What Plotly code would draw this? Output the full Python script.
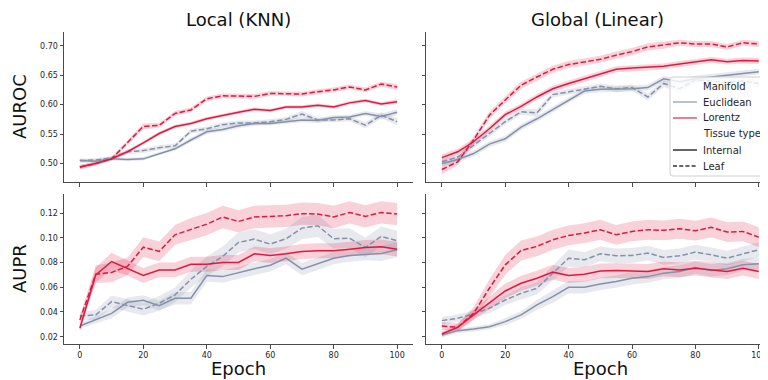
import plotly.graph_objects as go

epochs = [0, 5, 10, 15, 20, 25, 30, 35, 40, 45, 50, 55, 60, 65, 70, 75, 80, 85, 90, 95, 100]

# ---- AUROC, Local (KNN)
auroc_local_lor_leaf = [0.494, 0.500, 0.508, 0.535, 0.563, 0.565, 0.585, 0.591, 0.610, 0.615, 0.615, 0.614, 0.619, 0.619, 0.618, 0.622, 0.625, 0.630, 0.625, 0.635, 0.630]
auroc_local_lor_int = [0.494, 0.500, 0.508, 0.520, 0.535, 0.551, 0.563, 0.568, 0.576, 0.582, 0.587, 0.592, 0.590, 0.596, 0.596, 0.599, 0.596, 0.603, 0.607, 0.601, 0.605]
auroc_local_euc_int = [0.505, 0.504, 0.508, 0.507, 0.508, 0.517, 0.525, 0.540, 0.554, 0.558, 0.564, 0.568, 0.568, 0.571, 0.574, 0.573, 0.578, 0.579, 0.585, 0.580, 0.587]
auroc_local_euc_leaf = [0.505, 0.506, 0.510, 0.520, 0.522, 0.527, 0.530, 0.555, 0.559, 0.566, 0.569, 0.569, 0.571, 0.575, 0.584, 0.574, 0.574, 0.576, 0.565, 0.582, 0.571]

# ---- AUROC, Global (Linear)
auroc_global_lor_leaf = [0.490, 0.503, 0.540, 0.582, 0.608, 0.633, 0.647, 0.660, 0.668, 0.673, 0.677, 0.684, 0.690, 0.698, 0.701, 0.705, 0.703, 0.703, 0.698, 0.705, 0.703]
auroc_global_lor_int = [0.510, 0.520, 0.537, 0.559, 0.583, 0.597, 0.613, 0.627, 0.636, 0.644, 0.652, 0.660, 0.662, 0.663, 0.665, 0.669, 0.672, 0.676, 0.673, 0.675, 0.674]
auroc_global_euc_int = [0.500, 0.507, 0.517, 0.533, 0.542, 0.562, 0.576, 0.592, 0.608, 0.623, 0.626, 0.626, 0.627, 0.629, 0.644, 0.639, 0.644, 0.647, 0.650, 0.653, 0.656]
auroc_global_euc_leaf = [0.503, 0.511, 0.531, 0.551, 0.571, 0.588, 0.586, 0.617, 0.622, 0.627, 0.631, 0.627, 0.629, 0.613, 0.636, 0.627, 0.642, 0.640, 0.638, 0.640, 0.636]

# ---- AUPR, Local (KNN)
aupr_local_lor_leaf = [0.0335, 0.0705, 0.0720, 0.0768, 0.0924, 0.0890, 0.1024, 0.1070, 0.1110, 0.1168, 0.1132, 0.1168, 0.1173, 0.1178, 0.1195, 0.1192, 0.1168, 0.1205, 0.1173, 0.1205, 0.1192]
aupr_local_lor_int = [0.0268, 0.0700, 0.0808, 0.0754, 0.0695, 0.0740, 0.0740, 0.0786, 0.0786, 0.0800, 0.0800, 0.0870, 0.0857, 0.0870, 0.0889, 0.0895, 0.0895, 0.0908, 0.0922, 0.0927, 0.0908]
aupr_local_euc_int = [0.0286, 0.0335, 0.0389, 0.0478, 0.0495, 0.0451, 0.0511, 0.0511, 0.0695, 0.0686, 0.0719, 0.0749, 0.0778, 0.0835, 0.0746, 0.0789, 0.0835, 0.0857, 0.0868, 0.0873, 0.0903]
aupr_local_euc_leaf = [0.0368, 0.0376, 0.0484, 0.0451, 0.0422, 0.0470, 0.0538, 0.0665, 0.0768, 0.0849, 0.0962, 0.0989, 0.0949, 0.0992, 0.1078, 0.1097, 0.0992, 0.0997, 0.0922, 0.1011, 0.0976]

# ---- AUPR, Global (Linear)
aupr_global_lor_leaf = [0.0286, 0.0276, 0.0389, 0.0592, 0.0781, 0.0897, 0.0930, 0.0984, 0.1019, 0.1038, 0.1065, 0.1024, 0.1051, 0.1065, 0.1060, 0.1073, 0.1057, 0.1084, 0.1046, 0.1051, 0.1005]
aupr_global_lor_int = [0.0222, 0.0276, 0.0376, 0.0470, 0.0570, 0.0632, 0.0673, 0.0722, 0.0695, 0.0705, 0.0732, 0.0735, 0.0732, 0.0727, 0.0749, 0.0740, 0.0754, 0.0740, 0.0727, 0.0754, 0.0727]
aupr_global_euc_int = [0.0214, 0.0249, 0.0262, 0.0281, 0.0322, 0.0376, 0.0457, 0.0524, 0.0600, 0.0600, 0.0627, 0.0646, 0.0673, 0.0686, 0.0714, 0.0727, 0.0759, 0.0735, 0.0749, 0.0781, 0.0789]
aupr_global_euc_leaf = [0.0330, 0.0349, 0.0384, 0.0430, 0.0497, 0.0551, 0.0592, 0.0714, 0.0835, 0.0822, 0.0870, 0.0854, 0.0857, 0.0876, 0.0841, 0.0854, 0.0884, 0.0862, 0.0835, 0.0870, 0.0903]

# ---- confidence-band half widths
ci_auroc_local_lor_leaf = [0.004, 0.003, 0.003, 0.004, 0.005, 0.004, 0.004, 0.004, 0.004, 0.004, 0.004, 0.004, 0.004, 0.004, 0.004, 0.004, 0.004, 0.004, 0.004, 0.004, 0.005]
ci_auroc_local_lor_int = [0.003, 0.003, 0.003, 0.003, 0.003, 0.003, 0.003, 0.003, 0.003, 0.003, 0.003, 0.003, 0.003, 0.003, 0.003, 0.003, 0.003, 0.003, 0.003, 0.003, 0.004]
ci_auroc_local_euc_int = [0.003, 0.003, 0.003, 0.003, 0.003, 0.003, 0.003, 0.004, 0.004, 0.004, 0.004, 0.004, 0.003, 0.004, 0.004, 0.004, 0.004, 0.004, 0.004, 0.005, 0.005]
ci_auroc_local_euc_leaf = [0.003, 0.003, 0.003, 0.004, 0.004, 0.004, 0.004, 0.004, 0.004, 0.004, 0.004, 0.004, 0.004, 0.004, 0.005, 0.004, 0.004, 0.004, 0.005, 0.005, 0.006]
ci_auroc_global_lor_leaf = [0.008, 0.006, 0.006, 0.006, 0.006, 0.006, 0.006, 0.006, 0.006, 0.006, 0.006, 0.006, 0.006, 0.006, 0.006, 0.005, 0.005, 0.005, 0.005, 0.005, 0.005]
ci_auroc_global_lor_int = [0.006, 0.005, 0.005, 0.005, 0.005, 0.005, 0.005, 0.005, 0.005, 0.005, 0.005, 0.005, 0.005, 0.005, 0.005, 0.005, 0.005, 0.005, 0.005, 0.005, 0.005]
ci_auroc_global_euc_int = [0.005, 0.005, 0.005, 0.005, 0.005, 0.005, 0.005, 0.005, 0.005, 0.005, 0.005, 0.005, 0.005, 0.005, 0.005, 0.005, 0.005, 0.005, 0.005, 0.005, 0.005]
ci_auroc_global_euc_leaf = [0.005, 0.005, 0.005, 0.005, 0.005, 0.005, 0.006, 0.005, 0.005, 0.005, 0.005, 0.005, 0.005, 0.006, 0.006, 0.006, 0.006, 0.006, 0.006, 0.006, 0.006]
ci_aupr_local_lor_leaf = [0.003, 0.007, 0.008, 0.007, 0.008, 0.008, 0.008, 0.009, 0.009, 0.009, 0.009, 0.009, 0.009, 0.009, 0.009, 0.009, 0.009, 0.009, 0.009, 0.009, 0.009]
ci_aupr_local_lor_int = [0.002, 0.006, 0.007, 0.006, 0.006, 0.006, 0.006, 0.006, 0.006, 0.006, 0.006, 0.006, 0.006, 0.006, 0.006, 0.006, 0.006, 0.006, 0.006, 0.006, 0.006]
ci_aupr_local_euc_int = [0.002, 0.003, 0.004, 0.004, 0.004, 0.004, 0.005, 0.005, 0.005, 0.005, 0.005, 0.005, 0.005, 0.005, 0.005, 0.005, 0.005, 0.005, 0.005, 0.006, 0.006]
ci_aupr_local_euc_leaf = [0.003, 0.004, 0.005, 0.005, 0.005, 0.006, 0.006, 0.007, 0.008, 0.008, 0.008, 0.008, 0.008, 0.008, 0.009, 0.009, 0.008, 0.008, 0.008, 0.008, 0.008]
ci_aupr_global_lor_leaf = [0.003, 0.003, 0.005, 0.007, 0.008, 0.008, 0.008, 0.008, 0.008, 0.008, 0.008, 0.008, 0.008, 0.008, 0.008, 0.008, 0.008, 0.008, 0.008, 0.008, 0.008]
ci_aupr_global_lor_int = [0.002, 0.003, 0.004, 0.005, 0.006, 0.006, 0.006, 0.006, 0.006, 0.006, 0.006, 0.006, 0.006, 0.006, 0.006, 0.006, 0.006, 0.006, 0.006, 0.006, 0.006]
ci_aupr_global_euc_int = [0.002, 0.002, 0.002, 0.002, 0.003, 0.003, 0.004, 0.005, 0.005, 0.005, 0.005, 0.005, 0.005, 0.005, 0.005, 0.005, 0.005, 0.005, 0.005, 0.005, 0.005]
ci_aupr_global_euc_leaf = [0.003, 0.003, 0.003, 0.004, 0.004, 0.005, 0.005, 0.006, 0.007, 0.006, 0.006, 0.006, 0.006, 0.006, 0.006, 0.006, 0.006, 0.006, 0.006, 0.006, 0.006]

col_titles = ["Local (KNN)", "Global (Linear)"]
row_titles = ["AUROC", "AUPR"]
x_title = "Epoch"
x_ticks = [0, 20, 40, 60, 80, 100]
auroc_ticks = [0.50, 0.55, 0.60, 0.65, 0.70]
aupr_ticks = [0.02, 0.04, 0.06, 0.08, 0.10, 0.12]
legend_manifold_header = "Manifold"
legend_manifolds = ["Euclidean", "Lorentz"]
legend_tissue_header = "Tissue type"
legend_tissues = ["Internal", "Leaf"]

RED = "#DC1A40"
RED_FILL = "rgba(220,26,64,0.2)"
GRAY = "#8591A9"
GRAY_FILL = "rgba(133,145,169,0.2)"
AX = "#4a4a4a"
TXT = "#262626"
FONT = "DejaVu Sans"

# page body has an 8px margin: the figure starts at (8, 8) in the window
OFF = 8
W, H = 768 - OFF, 380 - OFF


def px(xp):
    return (xp - OFF) / W


def py(yp):
    return 1 - (yp - OFF) / H


xdom = [[px(64), px(413)], [px(426), 1.0]]
xrng = [[-5, 105], [-5, 102.9]]
ydom = [[py(182), py(32)], [py(344), py(194)]]
yrng = [[0.4687, 0.7233], [0.0141, 0.1354]]

panels = {
    (0, 0): [(auroc_local_euc_int, ci_auroc_local_euc_int, GRAY, GRAY_FILL, "solid"),
             (auroc_local_euc_leaf, ci_auroc_local_euc_leaf, GRAY, GRAY_FILL, "dash"),
             (auroc_local_lor_int, ci_auroc_local_lor_int, RED, RED_FILL, "solid"),
             (auroc_local_lor_leaf, ci_auroc_local_lor_leaf, RED, RED_FILL, "dash")],
    (0, 1): [(auroc_global_euc_int, ci_auroc_global_euc_int, GRAY, GRAY_FILL, "solid"),
             (auroc_global_euc_leaf, ci_auroc_global_euc_leaf, GRAY, GRAY_FILL, "dash"),
             (auroc_global_lor_int, ci_auroc_global_lor_int, RED, RED_FILL, "solid"),
             (auroc_global_lor_leaf, ci_auroc_global_lor_leaf, RED, RED_FILL, "dash")],
    (1, 0): [(aupr_local_euc_int, ci_aupr_local_euc_int, GRAY, GRAY_FILL, "solid"),
             (aupr_local_euc_leaf, ci_aupr_local_euc_leaf, GRAY, GRAY_FILL, "dash"),
             (aupr_local_lor_int, ci_aupr_local_lor_int, RED, RED_FILL, "solid"),
             (aupr_local_lor_leaf, ci_aupr_local_lor_leaf, RED, RED_FILL, "dash")],
    (1, 1): [(aupr_global_euc_int, ci_aupr_global_euc_int, GRAY, GRAY_FILL, "solid"),
             (aupr_global_euc_leaf, ci_aupr_global_euc_leaf, GRAY, GRAY_FILL, "dash"),
             (aupr_global_lor_int, ci_aupr_global_lor_int, RED, RED_FILL, "solid"),
             (aupr_global_lor_leaf, ci_aupr_global_lor_leaf, RED, RED_FILL, "dash")],
}

DASH = "5.5px,2.4px"

fig = go.Figure()
layout = dict(
    width=W, height=H, margin=dict(l=0, r=0, t=0, b=0),
    plot_bgcolor="white", paper_bgcolor="white",
    font=dict(family=FONT, color=TXT, size=10),
    showlegend=False,
)

for (r, c), series in panels.items():
    idx = r * 2 + c + 1
    xa = "x" if idx == 1 else f"x{idx}"
    ya = "y" if idx == 1 else f"y{idx}"
    for vals, ci, col, fill, dash in series:
        upper = [v + e for v, e in zip(vals, ci)]
        lower = [v - e for v, e in zip(vals, ci)]
        fig.add_trace(go.Scatter(x=epochs + epochs[::-1], y=upper + lower[::-1], fill="toself",
                                 fillcolor=fill, line=dict(width=0), mode="lines",
                                 hoverinfo="skip", showlegend=False, xaxis=xa, yaxis=ya))
    for vals, ci, col, fill, dash in series:
        fig.add_trace(go.Scatter(x=epochs, y=vals, mode="lines",
                                 line=dict(color=col, width=1.5, dash=DASH if dash == "dash" else "solid"),
                                 showlegend=False, xaxis=xa, yaxis=ya))
    common = dict(showline=True, linecolor=AX, linewidth=1, ticks="outside", ticklen=3.5,
                  tickwidth=0.8, tickcolor=AX, showgrid=False, zeroline=False,
                  tickfont=dict(size=8, color=TXT, family=FONT))
    layout["xaxis" if idx == 1 else f"xaxis{idx}"] = dict(
        common, domain=xdom[c], range=xrng[c], anchor=ya, tickvals=x_ticks,
        showticklabels=(r == 1))
    layout["yaxis" if idx == 1 else f"yaxis{idx}"] = dict(
        common, domain=ydom[r], range=yrng[r], anchor=xa,
        tickvals=auroc_ticks if r == 0 else aupr_ticks,
        tickformat=".2f", showticklabels=(c == 0))

# ---- manual legend (matplotlib/seaborn style)
shapes = []
bx0, bx1, by0, by1, rad = 670, 790, 77, 176, 3
path = (f"M {px(bx0 + rad)},{py(by0)} L {px(bx1)},{py(by0)} L {px(bx1)},{py(by1)} "
        f"L {px(bx0 + rad)},{py(by1)} Q {px(bx0)},{py(by1)} {px(bx0)},{py(by1 - rad)} "
        f"L {px(bx0)},{py(by0 + rad)} Q {px(bx0)},{py(by0)} {px(bx0 + rad)},{py(by0)} Z")
shapes.append(dict(type="path", path=path, xref="paper", yref="paper",
                   fillcolor="rgba(255,255,255,0.8)", line=dict(color="#d0d0d0", width=1), layer="above"))

legend_rows = [
    (legend_manifold_header, None, None),
    (legend_manifolds[0], "rgba(133,145,169,0.75)", "solid"),
    (legend_manifolds[1], "rgba(220,26,64,0.75)", "solid"),
    (legend_tissue_header, None, None),
    (legend_tissues[0], "#333333", "solid"),
    (legend_tissues[1], "#333333", "4px,2.2px"),
]
row_y = [86, 102, 118, 134, 150, 166]
annotations = []
for (label, col, dash), yy in zip(legend_rows, row_y):
    if col is not None:
        shapes.append(dict(type="line", xref="paper", yref="paper", x0=px(673), x1=px(697),
                           y0=py(yy), y1=py(yy), line=dict(color=col, width=1.5, dash=dash), layer="above"))
    annotations.append(dict(text=label, x=px(702), y=py(yy), xref="paper", yref="paper",
                            showarrow=False, xanchor="left", yanchor="middle", borderpad=0,
                            font=dict(size=10, family=FONT, color=TXT)))

title_cx = [238, 597]
for c, t in enumerate(col_titles):
    annotations.append(dict(text=t, x=px(title_cx[c]), y=py(20),
                            xref="paper", yref="paper", showarrow=False,
                            font=dict(size=18, family=FONT, color="#111111"), xanchor="center", yanchor="middle"))
row_cy = [107, 269]
for r, t in enumerate(row_titles):
    annotations.append(dict(text=t, x=px(19), y=py(row_cy[r]), xref="paper", yref="paper",
                            showarrow=False, textangle=-90,
                            font=dict(size=18, family=FONT, color="#111111"), xanchor="center", yanchor="middle"))
epoch_cx = [238, 600]
for c in range(2):
    annotations.append(dict(text=x_title, x=px(epoch_cx[c]), y=py(368),
                            xref="paper", yref="paper", showarrow=False,
                            font=dict(size=18, family=FONT, color="#111111"), xanchor="center", yanchor="middle"))
layout["annotations"] = annotations
layout["shapes"] = shapes
fig.update_layout(**layout)
fig.write_html("out.html")
